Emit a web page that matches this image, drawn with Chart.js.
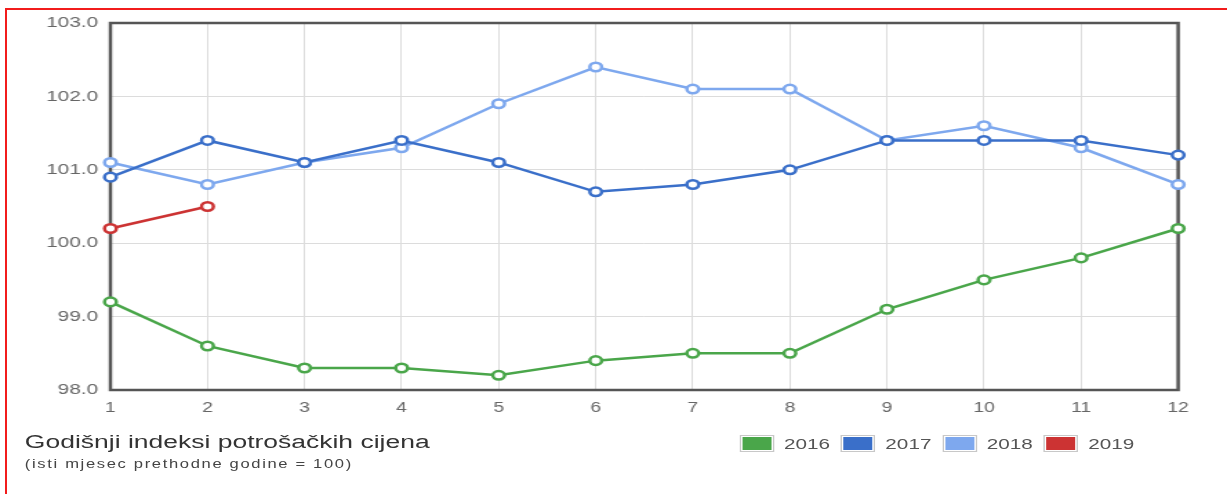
<!DOCTYPE html>
<html>
<head>
<meta charset="utf-8">
<script src="https://cdn.jsdelivr.net/npm/chart.js@4/dist/chart.umd.min.js"></script>
<style>
    body { margin: 0; background: #fff; width: 1227px; height: 494px; overflow: hidden; position: relative; }
    #frame { position: absolute; left: 5px; top: 8px; right: -2px; bottom: -2px; border-top: 2px solid #f21c1c; border-left: 2px solid #f21c1c; }
    #wrap { position: absolute; left: 0; top: 0; width: 889px; height: 494px; transform: scaleX(1.3802); transform-origin: 0 0; font-family: "Liberation Sans", Arial, sans-serif; }
    #box { position: absolute; left: 0; top: 0; width: 889px; height: 420px; }
    #title { position: absolute; left: 18px; top: 431px; font-size: 19.2px; color: #333; }
    #subtitle { position: absolute; left: 18px; top: 457px; font-size: 12px; letter-spacing: 1.2px; color: #444; }
    #legend { position: absolute; left: 536px; top: 435px; display: flex; }
    .item { display: flex; align-items: center; margin-right: 8.1px; font-size: 15px; color: #555; }
    .swatch { width: 21px; height: 13px; border: 1px solid #c8c8c8; padding: 1px; margin-right: 7px; }
    .swatch div { width: 100%; height: 100%; }
</style>
</head>
<body>
<div id="frame"></div>
<div id="wrap">
    <div id="box"><canvas id="chart"></canvas></div>
    <div id="title">Godišnji indeksi potrošačkih cijena</div>
    <div id="subtitle">(isti mjesec prethodne godine = 100)</div>
    <div id="legend"></div>
</div>
<script>
const months = ['1', '2', '3', '4', '5', '6', '7', '8', '9', '10', '11', '12'];
const years = ['2016', '2017', '2018', '2019'];
const colors = ['#4aa64a', '#3a6fc9', '#7ea8ee', '#cc3333'];

const values2016 = [99.2, 98.6, 98.3, 98.3, 98.2, 98.4, 98.5, 98.5, 99.1, 99.5, 99.8, 100.2];
const values2017 = [100.9, 101.4, 101.1, 101.4, 101.1, 100.7, 100.8, 101.0, 101.4, 101.4, 101.4, 101.2];
const values2018 = [101.1, 100.8, 101.1, 101.3, 101.9, 102.4, 102.1, 102.1, 101.4, 101.6, 101.3, 100.8];
const values2019 = [100.2, 100.5];

const yTicks = [98, 99, 100, 101, 102, 103];

const series = [values2016, values2017, values2018, values2019];

// dark frame around the plot area, like the original
const framePlugin = {
    id: 'frame',
    beforeDatasetsDraw(chart) {
        const a = chart.chartArea;
        const ctx = chart.ctx;
        ctx.save();
        ctx.strokeStyle = '#555';
        ctx.lineWidth = 2.5;
        ctx.strokeRect(a.left, a.top, a.right - a.left, a.bottom - a.top);
        ctx.restore();
    }
};

function buildLegend() {
    const legend = document.getElementById('legend');
    years.forEach((year, i) => {
        const item = document.createElement('div');
        item.className = 'item';
        item.innerHTML = `<div class="swatch"><div style="background:${colors[i]}"></div></div>${year}`;
        legend.appendChild(item);
    });
}

const ctx = document.getElementById('chart').getContext('2d');
new Chart(ctx, {
    type: 'line',
    data: {
        labels: months,
        datasets: series.map((data, i) => ({
            label: years[i],
            data: data,
            borderColor: colors[i],
            backgroundColor: '#fff',
            pointBackgroundColor: '#fff',
            pointBorderColor: colors[i],
            borderWidth: 2.5,
            pointRadius: 4.3,
            pointBorderWidth: 2.5,
            tension: 0
        }))
    },
    options: {
        responsive: true,
        maintainAspectRatio: false,
        animation: false,
        layout: { padding: { top: 23, right: 35.4, left: 0, bottom: 0 } },
        plugins: {
            legend: { display: false },
            tooltip: { enabled: false }
        },
        scales: {
            x: {
                offset: false,
                grid: { color: '#dcdcdc', lineWidth: 1, drawTicks: false },
                border: { display: false },
                ticks: { color: '#666', padding: 10, font: { family: 'Liberation Sans', size: 14 } },
                afterFit(scale) { scale.height = 30; }
            },
            y: {
                min: 98,
                max: 103,
                afterBuildTicks(scale) { scale.ticks = yTicks.map(v => ({ value: v })); },
                grid: { color: '#dcdcdc', lineWidth: 1, drawTicks: false },
                border: { display: false },
                ticks: {
                    color: '#666',
                    padding: 9,
                    font: { family: 'Liberation Sans', size: 15 },
                    callback: v => v.toFixed(1)
                },
                afterFit(scale) { scale.width = 80; }
            }
        }
    },
    plugins: [framePlugin]
});

buildLegend();
</script>
</body>
</html>
